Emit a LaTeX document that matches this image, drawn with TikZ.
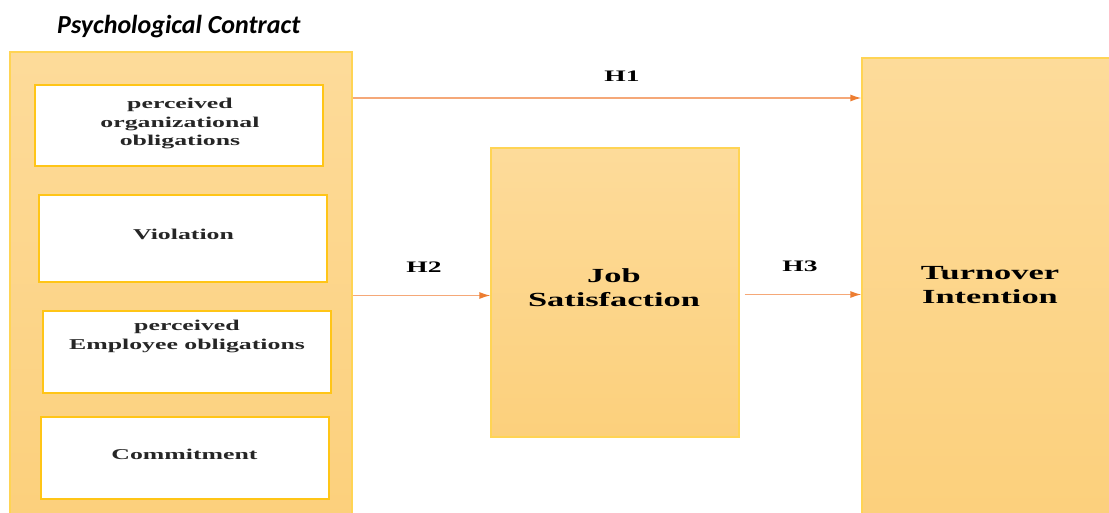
\documentclass[tikz,border=0pt]{standalone}
\usepackage{fontspec}
\usetikzlibrary{arrows.meta}
\newfontfamily\boxfont[FakeStretch=1.72]{Liberation Serif}
\newfontfamily\titlefont{Carlito}
\definecolor{fillTop}{HTML}{FDDB9A}
\definecolor{fillBot}{HTML}{FCD07C}
\definecolor{edgeY}{HTML}{FFD454}
\definecolor{innerEdge}{HTML}{FFC517}
\definecolor{lineOr}{HTML}{F5A878}
\definecolor{headOr}{HTML}{ED7D31}
\definecolor{inkGray}{HTML}{262626}
\tikzset{
  bigbox/.style={draw=edgeY, line width=1.2pt, top color=fillTop, bottom color=fillBot, minimum width=#1, inner sep=0pt},
  inbox/.style={draw=innerEdge, line width=2pt, fill=white, minimum width=288pt, inner sep=0pt},
  intext/.style={font=\boxfont\bfseries\fontsize{15}{18.5}\selectfont, text=inkGray, align=center, inner sep=0pt},
  bigtext/.style={font=\boxfont\bfseries\fontsize{20}{24}\selectfont, align=center, inner sep=0pt},
  htext/.style={font=\boxfont\bfseries\fontsize{16}{19}\selectfont, inner sep=0pt},
  arr/.style={draw=lineOr, line width=1.4pt, -{Latex[length=11pt,width=7pt,color=headOr]}}
}
\begin{document}
\begin{tikzpicture}[x=1pt,y=-1pt]
\useasboundingbox (0,0) rectangle (1109,512);
% title
\node[font=\titlefont\bfseries\itshape\fontsize{26}{30}\selectfont, anchor=base west, inner sep=0pt] (title) at (57,33) {Psychological Contract};
% left container
\node[bigbox=342pt, minimum height=464pt] (lbox) at (181,284) {};
% inner boxes
\node[inbox, minimum height=81pt] (b1) at (179,125.5) {};
\node[intext] (t1) at (180,123.5) {perceived\\organizational\\obligations};
\node[inbox, minimum height=87pt] (b2) at (183,238.5) {};
\node[intext, anchor=base] (t2) at (183.5,239.5) {Violation};
\node[inbox, minimum height=82pt] (b3) at (186.5,352) {};
\node[intext] (t3) at (187,336.5) {perceived\\Employee obligations};
\node[inbox, minimum height=82pt] (b4) at (184.5,458) {};
\node[intext, anchor=base] (t4) at (184.5,459.5) {Commitment};
% job satisfaction
\node[bigbox=248pt, minimum height=289pt] (job) at (615,292.5) {};
\node[bigtext] (jt) at (614,288) {Job\\Satisfaction};
% turnover
\node[bigbox=252pt, minimum height=460pt] (turn) at (988,288) {};
\node[bigtext] (tt) at (990,285) {Turnover\\Intention};
% arrows
\coordinate (y1) at (0,98);
\coordinate (y2) at (0,295.5);
\coordinate (y3) at (0,294.5);
\draw[arr] (lbox.east |- y1) -- (turn.west |- y1);
\draw[arr] (lbox.east |- y2) -- (job.west |- y2);
\draw[arr, shorten <=5pt] (job.east |- y3) -- (turn.west |- y3);
% labels
\node[htext] (h1) at (622,76) {H1};
\node[htext] (h2) at (424,267) {H2};
\node[htext] (h3) at (800,266) {H3};
\end{tikzpicture}
\end{document}
